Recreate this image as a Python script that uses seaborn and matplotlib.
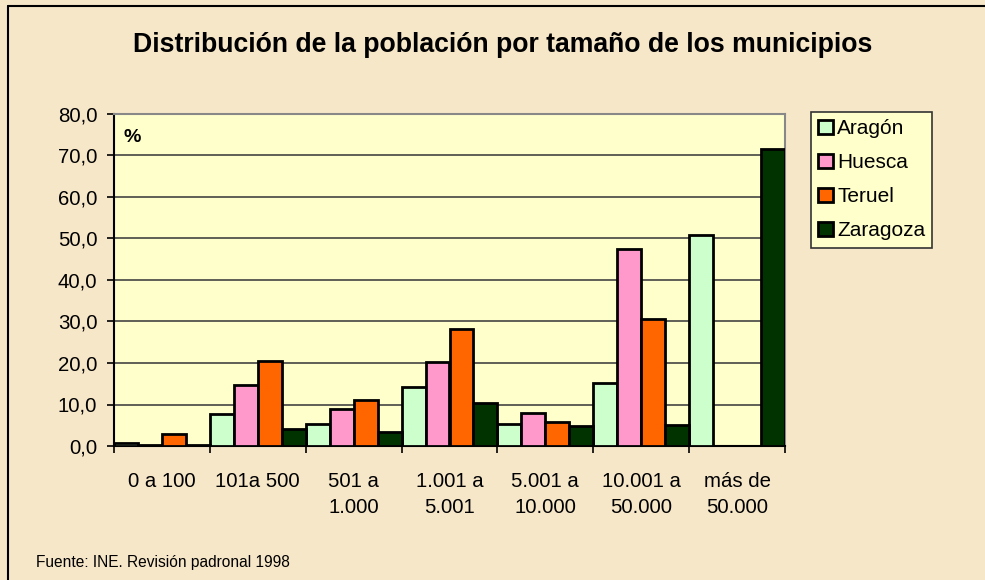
import numpy as np
import pandas as pd
import matplotlib
matplotlib.use('Agg')
import matplotlib.pyplot as plt
import seaborn as sns

# Data (% of population)
categories = ['0 a 100', '101a 500', '501 a\n1.000', '1.001 a\n5.001',
              '5.001 a\n10.000', '10.001 a\n50.000', 'más de\n50.000']
regions = ['Aragón', 'Huesca', 'Teruel', 'Zaragoza']
aragon = [0.8, 7.8, 5.2, 14.2, 5.4, 15.2, 50.8]
huesca = [0.2, 14.6, 8.8, 20.3, 8.0, 47.5, 0.0]
teruel = [3.0, 20.4, 11.2, 28.3, 5.9, 30.7, 0.0]
zaragoza = [0.3, 4.0, 3.4, 10.4, 4.8, 5.0, 71.6]
colors = ['#CCFFCC', '#FF99CC', '#FF6600', '#003300']

df = pd.DataFrame({
    'cat': categories * 4,
    'region': np.repeat(regions, len(categories)),
    'valor': aragon + huesca + teruel + zaragoza,
})

sns.set_style('white')
plt.rcParams['font.family'] = ['Liberation Sans', 'DejaVu Sans']
plt.rcParams['text.color'] = 'black'
plt.rcParams['xtick.color'] = 'black'
plt.rcParams['ytick.color'] = 'black'

bg = '#F7E7C9'
fig = plt.figure(figsize=(9.85, 5.8), dpi=100, facecolor=bg)
ax = fig.add_axes([114/985, 1 - 446/580, (785 - 114)/985, (446 - 114)/580])
ax.set_facecolor('#FFFFCC')

sns.barplot(data=df, x='cat', y='valor', hue='region', order=categories,
            hue_order=regions, palette=colors, width=1.0, gap=0,
            edgecolor='black', linewidth=2.0, saturation=1, ax=ax, zorder=3)

ax.set_ylim(0, 80)
ax.set_xlim(-0.5, len(categories) - 0.5)
ax.set_yticks(np.arange(0, 81, 10))
ax.set_yticklabels([f'{v:.1f}'.replace('.', ',') for v in np.arange(0, 81, 10)])
ax.yaxis.grid(True, color='#444444', linewidth=1.2, zorder=0)
ax.set_axisbelow(True)

# ticks at group boundaries, labels at centers
ax.set_xticks(np.arange(-0.5, len(categories), 1.0))
ax.set_xticklabels([])
ax.set_xticks(np.arange(len(categories)), minor=True)
ax.set_xticklabels(categories, minor=True, fontsize=14.7, linespacing=1.42)
ax.tick_params(axis='x', which='minor', length=0, pad=19)
ax.tick_params(axis='x', which='major', direction='out', length=5,
               width=1.2, color='black', bottom=True)
ax.tick_params(axis='y', direction='out', length=5, width=1.2,
               color='black', left=True, labelsize=14.7, pad=7)
ax.set_xlabel('')
ax.set_ylabel('')

for s in ['top', 'right']:
    ax.spines[s].set_color('#888888')
    ax.spines[s].set_linewidth(1.5)
for s in ['left', 'bottom']:
    ax.spines[s].set_color('black')
    ax.spines[s].set_linewidth(1.5)

ax.text(0.014, 0.955, '%', transform=ax.transAxes, fontsize=14,
        fontweight='bold', va='top', ha='left')

handles, labels = ax.get_legend_handles_labels()
leg = ax.legend(handles, labels, loc='upper left',
                bbox_to_anchor=(811/985, 1 - 112/580),
                bbox_transform=fig.transFigure, fontsize=15,
                frameon=True, fancybox=False, handlelength=0.7,
                handleheight=0.7, handletextpad=0.2, labelspacing=0.72,
                borderpad=0.35, borderaxespad=0)
leg.get_frame().set_facecolor('#FFFFCC')
leg.get_frame().set_edgecolor('#333333')
leg.get_frame().set_linewidth(1.2)
leg.get_frame().set_alpha(1)

fig.text(503/985, 1 - 45/580, 'Distribución de la población por tamaño de los municipios',
         ha='center', va='center', fontsize=19.2, fontweight='bold')
fig.text(36/985, 1 - 562/580, 'Fuente: INE. Revisión padronal 1998',
         ha='left', va='center', fontsize=11.2)

# frame lines on the left and top of the figure
fig.add_artist(plt.Line2D([8/985, 8/985], [0, 1 - 6/580], color='black',
                          linewidth=1.5, transform=fig.transFigure))
fig.add_artist(plt.Line2D([8/985, 1], [1 - 6/580, 1 - 6/580], color='black',
                          linewidth=1.5, transform=fig.transFigure))

fig.savefig('out.png', dpi=100, facecolor=bg)
